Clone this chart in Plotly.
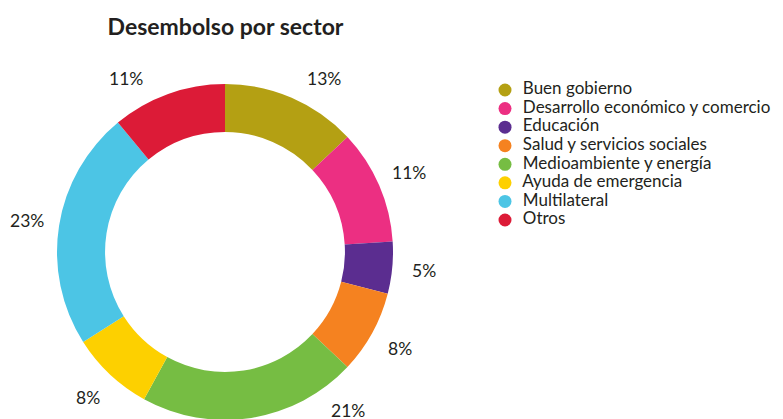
import math
import plotly.graph_objects as go

# ---- data ----
sectors = [
    "Buen gobierno",
    "Desarrollo económico y comercio",
    "Educación",
    "Salud y servicios sociales",
    "Medioambiente y energía",
    "Ayuda de emergencia",
    "Multilateral",
    "Otros",
]
shares = [13, 11, 5, 8, 21, 8, 23, 11]
colors = ["#b4a013", "#ec2f82", "#5b2d90", "#f58220", "#76bd43", "#fdd000", "#4cc5e5", "#dc1b37"]
title_text = "Desembolso por sector"

W, H = 783, 419
FONT = "Lato"
TXT = "#231f20"
OFF = 8  # page body margin offset

# pie geometry (page pixels)
cx, cy, R_out = 225 - OFF, 252 - OFF, 168
R_lab = 200
y_min, y_max = 78 - OFF, 410 - OFF

fig = go.Figure()
fig.add_trace(go.Pie(
    labels=sectors, values=shares, sort=False, direction="clockwise", rotation=0,
    hole=0.714, textinfo="none", hoverinfo="skip", showlegend=False,
    marker=dict(colors=colors, line=dict(width=0)),
    domain=dict(x=[(cx - R_out) / W, (cx + R_out) / W],
                y=[1 - (cy + R_out) / H, 1 - (cy - R_out) / H]),
))

# percentage labels outside the ring
total = sum(shares)
cum = 0
annotations = []
for v in shares:
    mid = (cum + v / 2) / total * 2 * math.pi
    cum += v
    th = mid
    py = cy - R_lab * math.cos(th)
    for lim in (y_min, y_max):
        if (lim == y_min and py < lim) or (lim == y_max and py > lim):
            a = math.acos(max(-1, min(1, (cy - lim) / R_lab)))
            cands = [a, 2 * math.pi - a]
            th = min(cands, key=lambda c: min(abs(c - mid), 2 * math.pi - abs(c - mid)))
    px = cx + R_lab * math.sin(th)
    py = cy - R_lab * math.cos(th)
    annotations.append(dict(
        x=px / W, y=1 - py / H, xref="paper", yref="paper",
        text=f"{round(v / total * 100)}%", showarrow=False,
        xanchor="center", yanchor="middle",
        font=dict(family=FONT, size=17.5, color=TXT),
    ))

# custom legend with round markers
fig.add_trace(go.Scatter(
    x=[0] * len(sectors), y=sectors, mode="markers+text",
    text=["\u00a0\u00a0" + s for s in sectors], textposition="middle right",
    textfont=dict(family=FONT, size=17, color=TXT),
    marker=dict(color=colors, size=13, symbol="circle", line=dict(width=0)),
    cliponaxis=False, hoverinfo="skip", showlegend=False,
    xaxis="x", yaxis="y",
))

fig.update_layout(
    width=W, height=H,
    margin=dict(l=0, r=0, t=0, b=0),
    paper_bgcolor="white", plot_bgcolor="white",
    title=dict(text=f"<b>{title_text}</b>", x=(225.5 - OFF) / W, xanchor="center",
               y=1 - (27 - OFF) / H, yanchor="middle",
               font=dict(family=FONT, size=23, color=TXT)),
    xaxis=dict(domain=[(505 - OFF) / W, 1], range=[0, 1], visible=False, fixedrange=True),
    yaxis=dict(domain=[(H - (229.3 - OFF)) / H, (H - (80.7 - OFF)) / H], type="category",
               categoryorder="array", categoryarray=sectors,
               range=[len(sectors) - 0.5, -0.5], visible=False, fixedrange=True),
    annotations=annotations,
    showlegend=False,
)

fig.write_html("out.html")
